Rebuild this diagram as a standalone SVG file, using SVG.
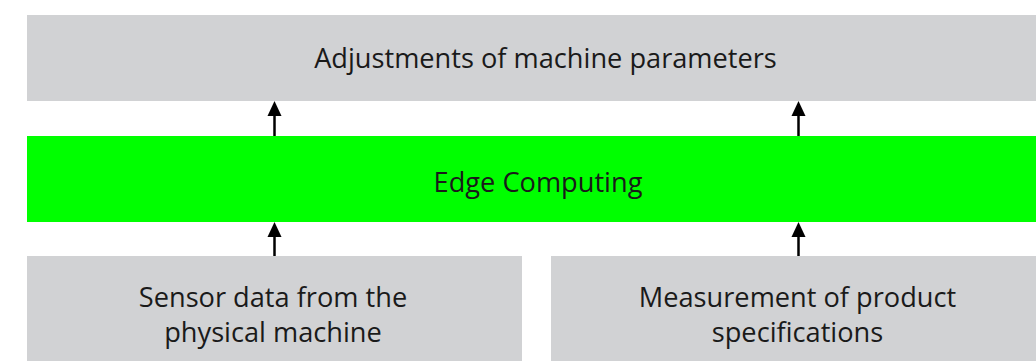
<svg xmlns="http://www.w3.org/2000/svg" width="1036" height="361" viewBox="0 0 1036 361">
  <style>
    .box { fill: #d1d2d4; }
    .edge { fill: #00ff00; }
    .lbl { font-family: "Open Sans", "Liberation Sans", sans-serif; font-size: 27.2px; fill: #1a1a1a; text-anchor: middle; }
    .conn { stroke: #000; stroke-width: 2.5; fill: none; marker-end: url(#arrow); }
  </style>
  <defs>
    <marker id="arrow" viewBox="0 0 15 15" markerUnits="userSpaceOnUse" markerWidth="15" markerHeight="15" refX="5" refY="7.5" orient="auto">
      <path d="M0,0.5 L15,7.5 L0,14.5 z" fill="#000"/>
    </marker>
  </defs>
  <rect width="1036" height="361" fill="#ffffff"/>
  <g id="adjustments">
    <rect class="box" x="27" y="15" width="1009" height="86"/>
    <text class="lbl" x="545.5" y="68.3">Adjustments of machine parameters</text>
  </g>
  <g id="edge-computing">
    <rect class="edge" x="27" y="136" width="1009" height="86"/>
    <text class="lbl" x="538" y="191.7">Edge Computing</text>
  </g>
  <g id="sensor-data">
    <rect class="box" x="27" y="256" width="495" height="105"/>
    <text class="lbl" x="273" y="306.7">Sensor data from the</text>
    <text class="lbl" x="273" y="342">physical machine</text>
  </g>
  <g id="measurement">
    <rect class="box" x="551" y="256" width="485" height="105"/>
    <text class="lbl" x="797.5" y="306.7">Measurement of product</text>
    <text class="lbl" x="797.5" y="342">specifications</text>
  </g>
  <g id="connectors">
    <line class="conn" x1="274.5" y1="136" x2="274.5" y2="111"/>
    <line class="conn" x1="798.5" y1="136" x2="798.5" y2="111"/>
    <line class="conn" x1="274.5" y1="256" x2="274.5" y2="232"/>
    <line class="conn" x1="798.5" y1="256" x2="798.5" y2="232"/>
  </g>
</svg>
